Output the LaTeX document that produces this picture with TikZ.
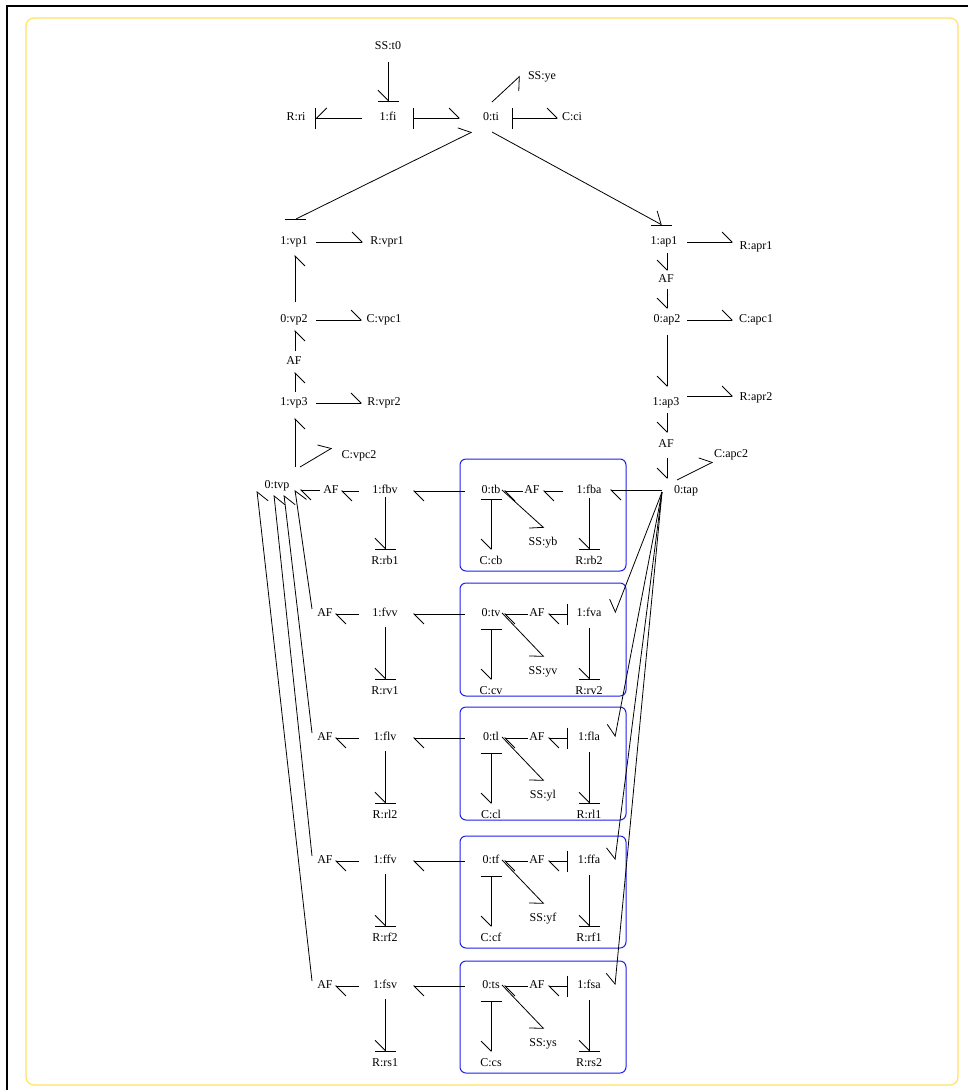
\documentclass[tikz,border=0pt]{standalone}
\usepackage{fontspec}
\setmainfont{Liberation Serif}
\usepackage{tikz}
\usetikzlibrary{arrows.meta,calc}
\definecolor{frameyellow}{RGB}{255,226,102}
\definecolor{boxblue}{RGB}{30,30,235}
\tikzstyle{Label}=[inner sep=0pt, text height=8pt, text depth=2.5pt, font=\fontsize{12}{14}\selectfont, text=black]
\tikzstyle{Bond}=[line width=0.8pt, draw=black]
\tikzstyle{BarbL}=[-{Straight Barb[harpoon, length=10pt, width=20pt]}]
\tikzstyle{BarbR}=[-{Straight Barb[harpoon, swap, length=10pt, width=20pt]}]
\tikzstyle{BarbLs}=[{Bar[width=21pt]}-{Straight Barb[harpoon, length=10pt, width=20pt]}]
\tikzstyle{BarbRs}=[{Bar[width=21pt]}-{Straight Barb[harpoon, swap, length=10pt, width=20pt]}]
\tikzstyle{BarbLe}=[-{Straight Barb[harpoon, length=10pt, width=20pt, sep=0pt]Bar[width=21pt]}]
\tikzstyle{BarbRe}=[-{Straight Barb[harpoon, swap, length=10pt, width=20pt, sep=0pt]Bar[width=21pt]}]
\tikzstyle{Junction}=[rounded corners=6pt, line width=1pt, draw=boxblue]
\pgfdeclarelayer{nodelayer}
\pgfdeclarelayer{edgelayer}
\pgfsetlayers{main, nodelayer, edgelayer}

\begin{document}
\begin{tikzpicture}[x=1pt, y=-1pt]
	\useasboundingbox (0, 0) rectangle (968, 1090);
	\draw [line width=2pt, draw=black] (7, 1090) -- (7, 6) -- (968, 6);
	\draw [line width=1.2pt, draw=frameyellow, rounded corners=8pt] (26, 18) rectangle (958, 1085);
	\begin{pgfonlayer}{nodelayer}
		% input
		\node [style=Label] (t0) at (388, 47) {SS:t0};
		\node [style=Label] (fi) at (388, 118) {1:fi};
		\node [style=Label] (ri) at (296, 118) {R:ri};
		\node [style=Label] (ti) at (491, 118) {0:ti};
		\node [style=Label] (ye) at (542, 77) {SS:ye};
		\node [style=Label] (ci) at (572, 118) {C:ci};
		% vein side
		\node [style=Label] (vp1) at (294, 242) {1:vp1};
		\node [style=Label] (vpr1) at (387, 242) {R:vpr1};
		\node [style=Label] (vp2) at (294, 320) {0:vp2};
		\node [style=Label] (vpc1) at (384, 320) {C:vpc1};
		\node [style=Label] (vaf) at (294, 362) {AF};
		\node [style=Label] (vp3) at (294, 403) {1:vp3};
		\node [style=Label] (vpr2) at (384, 403) {R:vpr2};
		\node [style=Label] (vpc2) at (359, 456) {C:vpc2};
		\node [style=Label] (tvp) at (277, 486) {0:tvp};
		% artery side
		\node [style=Label] (ap1) at (664, 242) {1:ap1};
		\node [style=Label] (apr1) at (756, 247) {R:apr1};
		\node [style=Label] (aaf1) at (666, 280) {AF};
		\node [style=Label] (ap2) at (667, 320) {0:ap2};
		\node [style=Label] (apc1) at (756, 320) {C:apc1};
		\node [style=Label] (ap3) at (666, 403) {1:ap3};
		\node [style=Label] (apr2) at (756, 398) {R:apr2};
		\node [style=Label] (aaf2) at (666, 445) {AF};
		\node [style=Label] (apc2) at (731, 455) {C:apc2};
		\node [style=Label] (tap) at (686, 491) {0:tap};
		% rows
		\foreach \rw/\ry/\rlo/\rso/\rxl/\rxa/\rna/\rnb/\rbt/\rbb in {b/491/71/52/331/532/1/2/459/571, v/614/78/58/325/537/1/2/583/696, l/738/78/58/325/537/2/1/707/820, f/861/78/58/325/537/2/1/836/948, s/986/78/58/325/537/1/2/961/1073}{
			\node [style=Label] (afl\rw) at (\rxl, \ry) {AF};
			\node [style=Label] (f\rw v) at (385, \ry) {1:f\rw v};
			\node [style=Label] (t\rw) at (491, \ry) {0:t\rw};
			\node [style=Label] (afr\rw) at (\rxa, \ry) {AF};
			\node [style=Label] (f\rw a) at (589, \ry) {1:f\rw a};
			\node [style=Label] (r\rw\rna) at (385, \ry+\rlo) {R:r\rw\rna};
			\node [style=Label] (c\rw) at (491, \ry+\rlo) {C:c\rw};
			\node [style=Label] (y\rw) at (543, \ry+\rso) {SS:y\rw};
			\node [style=Label] (r\rw\rnb) at (589, \ry+\rlo) {R:r\rw\rnb};
			\draw [style=Junction] (460, \rbt) rectangle (626, \rbb);
		}
	\end{pgfonlayer}
	\begin{pgfonlayer}{edgelayer}
		% input
		\draw [style=Bond, style=BarbRe] ($(t0)+(0,15)$) -- ($(fi)+(0,-16)$);
		\draw [style=Bond, style=BarbRe] ($(fi)+(-26,0)$) -- ($(ri)+(19,0)$);
		\draw [style=Bond, style=BarbLs] ($(fi)+(25,0)$) -- ($(ti)+(-31,0)$);
		\draw [style=Bond, style=BarbLs] ($(ti)+(21,0)$) -- ($(ci)+(-14,0)$);
		\draw [style=Bond, style=BarbR] ($(ti)+(1,-16)$) -- ($(ye)+(-22,-1)$);
		\draw [style=Bond, style=BarbL] ($(vp1)+(2,-23)$) -- ($(ti)+(-19,14)$);
		\draw [style=Bond] ($(vp1)+(-9,-23)$) -- ($(vp1)+(12,-23)$);
		\draw [style=Bond, style=BarbL] ($(ti)+(1,14)$) -- ($(ap1)+(-2,-17)$);
		\draw [style=Bond] ($(ap1)+(-13,-17)$) -- ($(ap1)+(8,-17)$);

		% vein side
		\draw [style=Bond, style=BarbL] ($(vp1)+(22,0)$) -- ($(vpr1)+(-24,0)$);
		\draw [style=Bond, style=BarbR] ($(vp2)+(1,-18)$) -- ($(vp1)+(1,13)$);
		\draw [style=Bond, style=BarbL] ($(vp2)+(22,0)$) -- ($(vpc1)+(-22,0)$);
		\draw [style=Bond, style=BarbR] ($(vaf)+(1,-11)$) -- ($(vp2)+(1,10)$);
		\draw [style=Bond, style=BarbR] ($(vp3)+(1,-11)$) -- ($(vaf)+(1,10)$);
		\draw [style=Bond, style=BarbL] ($(vp3)+(22,0)$) -- ($(vpr2)+(-22,0)$);
		\draw [style=Bond, style=BarbR] ($(tvp)+(18,-19)$) -- ($(vp3)+(1,15)$);
		\draw [style=Bond, style=BarbL] ($(tvp)+(23,-19)$) -- ($(vpc2)+(-27,-8)$);

		% artery side
		\draw [style=Bond, style=BarbL] ($(ap1)+(23,0)$) -- ($(apr1)+(-23,-5)$);
		\draw [style=Bond, style=BarbR] ($(ap1)+(3,11)$) -- ($(aaf1)+(1,-9)$);
		\draw [style=Bond, style=BarbR] ($(aaf1)+(1,9)$) -- ($(ap2)+(0,-11)$);
		\draw [style=Bond, style=BarbL] ($(ap2)+(20,0)$) -- ($(apc1)+(-23,0)$);
		\draw [style=Bond, style=BarbR] ($(ap2)+(0,15)$) -- ($(ap3)+(1,-16)$);
		\draw [style=Bond, style=BarbL] ($(ap3)+(21,-7)$) -- ($(apr2)+(-23,-2)$);
		\draw [style=Bond, style=BarbR] ($(ap3)+(1,10)$) -- ($(aaf2)+(1,-12)$);
		\draw [style=Bond, style=BarbR] ($(aaf2)+(1,13)$) -- ($(tap)+(-19,-12)$);
		\draw [style=Bond, style=BarbL] ($(tap)+(-9,-11)$) -- ($(apc2)+(-18,7)$);

		% rows
		\foreach \rw/\rlo/\rna/\rnb in {b/71/1/2, v/78/1/2, l/78/2/1, f/78/2/1, s/78/1/2}{
			\draw [style=Bond, style=BarbL] ($(t\rw)+(-26,0)$) -- ($(f\rw v)+(28,0)$);
			\draw [style=Bond, style=BarbL] ($(f\rw v)+(-26,0)$) -- ($(afl\rw)+(10,0)$);
			\draw [style=Bond, style=BarbRe] ($(f\rw v)+(0,\rlo-65)$) -- ($(r\rw\rna)+(0,-12)$);
			\draw [style=Bond, style=BarbRs] ($(t\rw)+(0,\rlo-63)$) -- ($(c\rw)+(0,-12)$);
			\draw [style=Bond, style=BarbR] ($(t\rw)+(11,-1)$) -- ($(y\rw)+(1,-15)$);
			\draw [style=Bond, style=BarbL] ($(afr\rw)+(-9,0)$) -- ($(t\rw)+(13,0)$);
			\draw [style=Bond, style=BarbRe] ($(f\rw a)+(0,\rlo-64)$) -- ($(r\rw\rnb)+(0,-12)$);
		}
		\draw [style=Bond, style=BarbL] ($(fba)+(-26,0)$) -- ($(afrb)+(11,0)$);
		\draw [style=Bond, style=BarbL] ($(aflb)+(-11,-1)$) -- ($(tvp)+(23,4)$);
		\draw [style=Bond, style=BarbL] ($(tap)+(-24,-1)$) -- ($(fba)+(21,-1)$);
		% fans to the lower rows
		\foreach \rw/\tx/\ty in {v/18/4, l/7/9, f/-3/9, s/-20/5}{
			\draw [style=Bond, style=BarbLs] ($(f\rw a)+(-21,0)$) -- ($(afr\rw)+(11,0)$);
			\draw [style=Bond, style=BarbR] ($(afl\rw)+(-13,-5)$) -- ($(tvp)+(\tx,\ty)$);
			\draw [style=Bond, style=BarbR] ($(tap)+(-24,1)$) -- ($(f\rw a)+(26,-1)$);
		}
	\end{pgfonlayer}
\end{tikzpicture}
\end{document}
